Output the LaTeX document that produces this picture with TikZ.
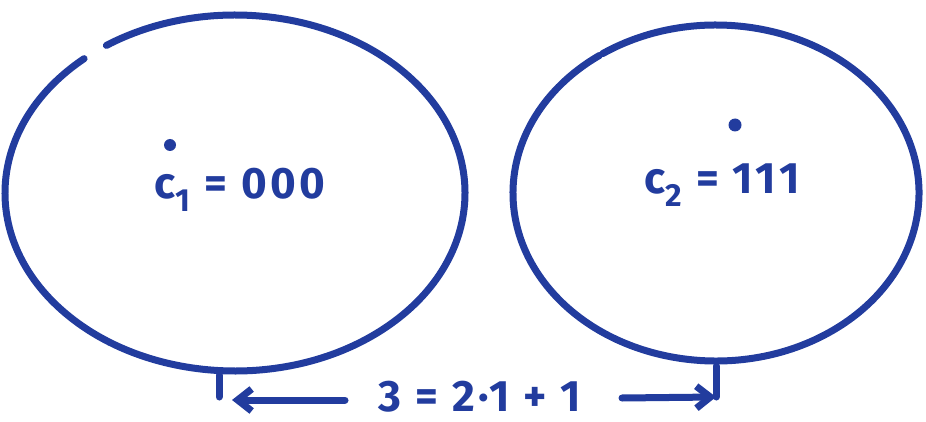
\documentclass[tikz,border=0pt]{standalone}
\usepackage{fontspec}
\setmainfont{Fira Sans}[LetterSpace=8]
\usetikzlibrary{arrows.meta}
\definecolor{ink}{RGB}{34,60,158}
\newcommand{\lowidx}[1]{\raisebox{-0.3em}{\fontsize{32}{32}\selectfont #1}}
\begin{document}
\begin{tikzpicture}[x=1pt,y=-1pt,
  pen/.style={draw=ink,line width=7pt,line cap=round,line join=round},
  lbl/.style={text=ink,inner sep=0pt,font=\fontsize{44}{44}\selectfont\bfseries},
  arr/.style={pen,-{Straight Barb[length=14pt,width=22pt,line width=7pt]}}]
\useasboundingbox (0,0) rectangle (926,422);
% left ball
\draw[pen] (235,193) ++(131:230 and -178) arc[start angle=131,end angle=484,x radius=230,y radius=-178];
% right ball
\draw[pen] (716,193) ++(125:203 and -168) arc[start angle=125,end angle=484,x radius=203,y radius=-168];
% codeword points
\fill[ink] (170,145) circle (6);
\fill[ink] (735,125) circle (6.5);
\node[lbl] (c1) at (240,190) {c\lowidx{1} = 000};
\node[lbl] (c2) at (722,185) {c\lowidx{2} = 111};
% distance
\coordinate (lt) at (219,375);
\coordinate (lb) at (219,397);
\coordinate (la) at (232,400);
\coordinate (ls) at (345,400);
\coordinate (rt) at (716,366);
\coordinate (ra) at (716,397);
\coordinate (rs) at (622,398);
\draw[pen] (lt) -- (lb);
\draw[pen] (rt) -- (ra);
\node[lbl] (eq) at (480,397) {3 = 2·1 + 1};
\draw[arr] (ls) -- (la);
\draw[arr] (rs) -- (ra);
\end{tikzpicture}
\end{document}
